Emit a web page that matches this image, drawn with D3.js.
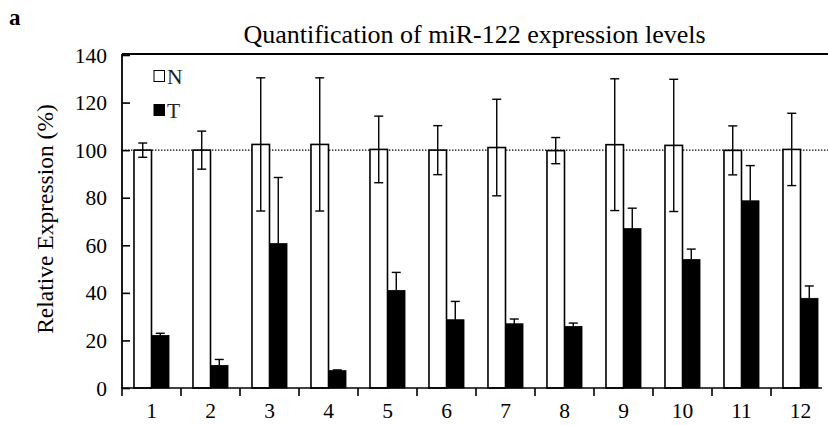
<!DOCTYPE html>
<html>
<head>
<meta charset="utf-8">
<script src="https://cdn.jsdelivr.net/npm/d3@7"></script>
<style>
  html, body { margin: 0; padding: 0; background: #fff; }
  svg { display: block; }
  text { font-family: "Liberation Serif", "Times New Roman", serif; fill: #000; }
</style>
</head>
<body>
<svg id="chart" width="828" height="425"></svg>
<script>
// ---- data ----
const categories = ["1","2","3","4","5","6","7","8","9","10","11","12"];
const normalMean = [100, 100, 102.4, 102.4, 100.3, 100, 101.1, 99.8, 102.3, 102, 99.9, 100.3];
const normalErr  = [3, 8, 28, 28, 14, 10.3, 20.3, 5.5, 27.7, 27.8, 10.3, 15.2];
const tumorMean  = [22.1, 9.5, 60.7, 7.3, 41, 28.7, 27, 25.9, 67, 54, 78.7, 37.7];
const tumorErr   = [0.9, 2.5, 27.8, 0.3, 7.6, 7.7, 2, 1.4, 8.6, 4.4, 14.8, 5.2];
const yTicks = [0, 20, 40, 60, 80, 100, 120, 140];
const seriesNames = ["N", "T"];
const titleText = "Quantification of miR-122 expression levels";
const yLabel = "Relative Expression (%)";
const panelLabel = "a";

// ---- layout ----
const svg = d3.select("#chart");
const pLeft = 122, pRight = 830, pTop = 55, pBottom = 388;

const x = d3.scaleBand().domain(categories).range([pLeft, pRight]).padding(0);
const y = d3.scaleLinear().domain([0, 140]).range([pBottom, pTop]);
const bw = x.bandwidth();
const barW = bw * 0.297;

const g = svg.append("g");

// reference dotted line at 100
g.append("line")
  .attr("x1", pLeft).attr("x2", 828)
  .attr("y1", y(100)).attr("y2", y(100))
  .attr("stroke", "#000").attr("stroke-width", 1.3)
  .attr("stroke-dasharray", "1.4,1.6");

const data = categories.map((c, i) => ({
  c, n: normalMean[i], ne: normalErr[i], t: tumorMean[i], te: tumorErr[i]
}));

// N bars (white)
g.selectAll("rect.n").data(data).enter().append("rect")
  .attr("class", "n")
  .attr("x", d => x(d.c) + bw / 2 - barW)
  .attr("width", barW)
  .attr("y", d => y(d.n))
  .attr("height", d => y(0) - y(d.n))
  .attr("fill", "#fff").attr("stroke", "#000").attr("stroke-width", 1.6);

// T bars (black)
g.selectAll("rect.t").data(data).enter().append("rect")
  .attr("class", "t")
  .attr("x", d => x(d.c) + bw / 2)
  .attr("width", barW)
  .attr("y", d => y(d.t))
  .attr("height", d => y(0) - y(d.t))
  .attr("fill", "#000").attr("stroke", "#000").attr("stroke-width", 0.8);

const capW = 9;
data.forEach(d => {
  const cx = x(d.c) + bw / 2 - barW / 2;
  const e = g.append("g").attr("stroke", "#000").attr("stroke-width", 1.4);
  e.append("line").attr("x1", cx).attr("x2", cx).attr("y1", y(d.n + d.ne)).attr("y2", y(d.n - d.ne));
  e.append("line").attr("x1", cx - capW/2).attr("x2", cx + capW/2).attr("y1", y(d.n + d.ne)).attr("y2", y(d.n + d.ne));
  e.append("line").attr("x1", cx - capW/2).attr("x2", cx + capW/2).attr("y1", y(d.n - d.ne)).attr("y2", y(d.n - d.ne));
  const tx = x(d.c) + bw / 2 + barW / 2;
  const te = g.append("g").attr("stroke", "#000").attr("stroke-width", 1.4);
  te.append("line").attr("x1", tx).attr("x2", tx).attr("y1", y(d.t + d.te)).attr("y2", y(d.t));
  te.append("line").attr("x1", tx - capW/2).attr("x2", tx + capW/2).attr("y1", y(d.t + d.te)).attr("y2", y(d.t + d.te));
});

// y axis with inward ticks
const yAxis = d3.axisRight(y).tickValues(yTicks).tickSize(8).tickFormat("");
const ya = svg.append("g").attr("transform", `translate(${pLeft},0)`).call(yAxis);
ya.select(".domain").remove();
ya.selectAll(".tick line").attr("stroke", "#000").attr("stroke-width", 1.6);
svg.append("line").attr("x1", pLeft).attr("x2", pLeft).attr("y1", pTop - 1).attr("y2", pBottom)
  .attr("stroke", "#000").attr("stroke-width", 1.8);

// y tick labels
svg.append("g").selectAll("text").data(yTicks).enter().append("text")
  .attr("x", pLeft - 15).attr("y", d => y(d))
  .attr("dy", "0.35em")
  .attr("text-anchor", "end")
  .style("font-size", "21.5px")
  .text(d => d);

// top frame line
svg.append("line").attr("x1", pLeft).attr("x2", 828).attr("y1", pTop - 1).attr("y2", pTop - 1)
  .attr("stroke", "#000").attr("stroke-width", 1.8);

// x axis: ticks at category boundaries
const bounds = categories.map(c => x(c));
svg.append("line").attr("x1", pLeft - 1).attr("x2", 822).attr("y1", pBottom).attr("y2", pBottom)
  .attr("stroke", "#000").attr("stroke-width", 1.6);
svg.append("g").selectAll("line").data(bounds).enter().append("line")
  .attr("x1", d => d).attr("x2", d => d)
  .attr("y1", pBottom).attr("y2", pBottom + 8)
  .attr("stroke", "#000").attr("stroke-width", 1.6);

// x labels
svg.append("g").selectAll("text").data(categories).enter().append("text")
  .attr("x", d => x(d) + bw / 2)
  .attr("y", 418)
  .attr("text-anchor", "middle")
  .style("font-size", "21.5px")
  .text(d => d);

// title
svg.append("text").attr("x", 474.5).attr("y", 43)
  .attr("text-anchor", "middle")
  .style("font-size", "26px")
  .text(titleText);

// y label
svg.append("text")
  .attr("transform", `translate(53,219) rotate(-90)`)
  .attr("text-anchor", "middle")
  .style("font-size", "23.5px")
  .text(yLabel);

// panel label
svg.append("text").attr("x", 9).attr("y", 25)
  .style("font-size", "23px").style("font-weight", "bold")
  .text(panelLabel);

// legend
const legend = svg.append("g");
seriesNames.forEach((s, i) => {
  const ly = 76 + i * 34;
  legend.append("rect").attr("x", 154).attr("y", ly - 5.5).attr("width", 10.5).attr("height", 11)
    .attr("fill", i === 0 ? "#fff" : "#000").attr("stroke", "#000").attr("stroke-width", 1);
  legend.append("text").attr("x", 167).attr("y", ly).attr("dy", "0.35em")
    .style("font-size", "21.5px").style("fill", "#222").text(s);
});
</script>
</body>
</html>
